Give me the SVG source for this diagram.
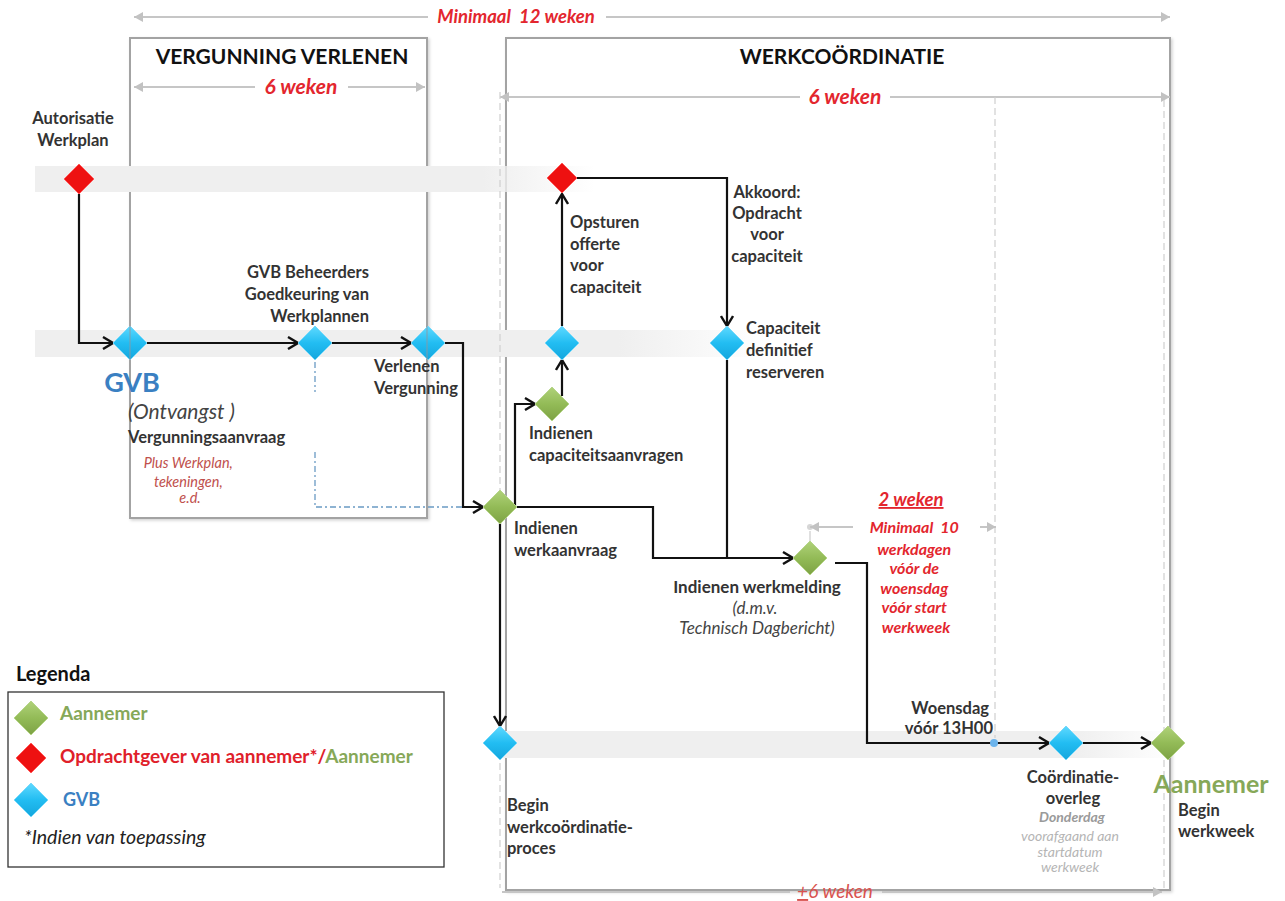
<svg xmlns="http://www.w3.org/2000/svg" width="1285" height="901" viewBox="0 0 1285 901">
<style>
  text { font-family: Lato, "Open Sans", "Liberation Sans", sans-serif; }
  .lbl { font-size: 16.5px; font-weight: 700; fill: #333; }
  .ital { font-size: 17px; font-style: italic; fill: #444; }
  .title { font-size: 21px; font-weight: 700; fill: #111; }
  .dimtxt { font-size: 18.5px; font-weight: 700; font-style: italic; fill: #e3262e; }
  .redsm { font-size: 16px; font-weight: 700; font-style: italic; fill: #e3262e; }
  .panel { fill: #fff; stroke: #a3a3a3; stroke-width: 2; }
  .dim { stroke: #c6c6c6; stroke-width: 2; fill: none; }
  .vdash { stroke: #cfcfcf; stroke-width: 1.2; stroke-dasharray: 7 4; fill: none; }
  .conn { stroke: #111; stroke-width: 2.2; fill: none; }
  .blue { fill: url(#gBlue); stroke: #78d9fa; stroke-width: 1; }
  .green { fill: url(#gGreen); stroke: #b6d58a; stroke-width: 1; }
  .red { fill: #ee1111; stroke: #ff5a5a; stroke-width: 1; }
</style>
<defs>
  <linearGradient id="gBlue" x1="0" y1="0" x2="0" y2="1">
    <stop offset="0" stop-color="#5fd9ff"/>
    <stop offset="0.5" stop-color="#22bdf2"/>
    <stop offset="1" stop-color="#14a6dd"/>
  </linearGradient>
  <linearGradient id="gGreen" x1="0" y1="0" x2="0" y2="1">
    <stop offset="0" stop-color="#b0d27a"/>
    <stop offset="0.5" stop-color="#93bb57"/>
    <stop offset="1" stop-color="#7da244"/>
  </linearGradient>
  <linearGradient id="band1" x1="0" y1="0" x2="1" y2="0">
    <stop offset="0" stop-color="#efefef"/>
    <stop offset="0.8" stop-color="#efefef"/>
    <stop offset="1" stop-color="#efefef" stop-opacity="0"/>
  </linearGradient>
  <linearGradient id="band3" x1="0" y1="0" x2="1" y2="0">
    <stop offset="0" stop-color="#efefef"/>
    <stop offset="0.85" stop-color="#efefef"/>
    <stop offset="1" stop-color="#efefef" stop-opacity="0"/>
  </linearGradient>
  <filter id="shadow" x="-5%" y="-5%" width="110%" height="110%">
    <feDropShadow dx="1.5" dy="1.5" stdDeviation="1.5" flood-color="#000" flood-opacity="0.18"/>
  </filter>
  <marker id="arr" markerUnits="userSpaceOnUse" markerWidth="14" markerHeight="14" refX="12" refY="7" orient="auto">
    <path d="M2,1 L12,7 L2,13" fill="none" stroke="#111" stroke-width="2.4"/>
  </marker>
  <marker id="darr" markerUnits="userSpaceOnUse" markerWidth="10" markerHeight="10" refX="9" refY="5" orient="auto-start-reverse">
    <path d="M0,0 L9,5 L0,10 Z" fill="#c2c2c2"/>
  </marker>
  <path id="dia" d="M0,-17 L17,0 L0,17 L-17,0 Z"/>
  <path id="diaR" d="M0,-15 L15,0 L0,15 L-15,0 Z"/>
</defs>

<rect width="1285" height="901" fill="#fff"/>

<!-- panels -->
<g id="panel-vergunning">
  <rect class="panel" x="130" y="38" width="297" height="480" filter="url(#shadow)"/>
  <text class="title" x="282" y="64" text-anchor="middle">VERGUNNING VERLENEN</text>
</g>
<g id="panel-werkcoordinatie">
  <rect class="panel" x="506" y="38" width="664" height="852" filter="url(#shadow)"/>
  <text class="title" x="842" y="64" text-anchor="middle">WERKCOÖRDINATIE</text>
</g>

<!-- lanes -->
<g id="lanes">
  <rect x="35" y="166" width="560" height="26" fill="url(#band1)"/>
  <rect x="35" y="330" width="730" height="27" fill="url(#band1)"/>
  <rect x="500" y="731" width="675" height="27" fill="url(#band3)"/>
</g>

<!-- dimension lines -->
<g id="dimensions">
  <line class="dim" x1="134" y1="17" x2="428" y2="17" marker-start="url(#darr)"/>
  <line class="dim" x1="606" y1="17" x2="1170" y2="17" marker-end="url(#darr)"/>
  <text class="dimtxt" x="516" y="23" text-anchor="middle">Minimaal&#160; 12 weken</text>

  <line class="dim" x1="134" y1="87" x2="255" y2="87" marker-start="url(#darr)"/>
  <line class="dim" x1="348" y1="87" x2="425" y2="87" marker-end="url(#darr)"/>
  <text class="dimtxt" x="301" y="94" text-anchor="middle" style="font-size:21px">6 weken</text>

  <line class="dim" x1="500" y1="97" x2="800" y2="97" marker-start="url(#darr)"/>
  <line class="dim" x1="890" y1="97" x2="1170" y2="97" marker-end="url(#darr)"/>
  <text class="dimtxt" x="845" y="104" text-anchor="middle" style="font-size:21px">6 weken</text>

  <line class="dim" x1="502" y1="892" x2="790" y2="892"/>
  <line class="dim" x1="882" y1="892" x2="1162" y2="892" marker-end="url(#darr)"/>
  <text x="835" y="898" text-anchor="middle" style="font-size:19px;font-style:italic;fill:#d9534f"><tspan text-decoration="underline">+</tspan>6 weken</text>

  <line class="vdash" x1="500" y1="92" x2="500" y2="888"/>
  <line class="vdash" x1="995" y1="97" x2="995" y2="738"/>
  <line class="vdash" x1="1164" y1="100" x2="1164" y2="888"/>

  <circle cx="810" cy="527" r="3" fill="#d6d6d6"/>
  <line class="dim" x1="810" y1="527" x2="853" y2="527" marker-start="url(#darr)"/>
  <line class="dim" x1="980" y1="527" x2="996" y2="527" marker-end="url(#darr)"/>
  <line x1="810" y1="531" x2="810" y2="542" stroke="#e0e0e0" stroke-width="2"/>
  <text x="911" y="506" text-anchor="middle" style="font-size:18.5px;font-weight:700;font-style:italic;fill:#e3262e;text-decoration:underline">2 weken</text>
  <text class="redsm" text-anchor="middle">
    <tspan x="916" y="533">Minimaal&#160; 10</tspan>
    <tspan x="916" y="555">werkdagen</tspan>
    <tspan x="916" y="574">vóór de</tspan>
    <tspan x="916" y="594">woensdag</tspan>
    <tspan x="916" y="613">vóór start</tspan>
    <tspan x="916" y="633">werkweek</tspan>
  </text>
</g>

<!-- connectors -->
<g id="connectors">
  <path class="conn" d="M79,194 V343 H113" marker-end="url(#arr)"/>
  <path class="conn" d="M147,343 H298" marker-end="url(#arr)"/>
  <path class="conn" d="M332,343 H411" marker-end="url(#arr)"/>
  <path class="conn" d="M445,343 H463 V507 H483" marker-end="url(#arr)"/>
  <path d="M315,362 V392 M315,452 V507 H462" fill="none" stroke="#6a9ac4" stroke-width="1.3" stroke-dasharray="6 3 2 3"/>
  <path class="conn" d="M515,507 V404 H535" marker-end="url(#arr)"/>
  <path class="conn" d="M515,507 H653 V558 H793" marker-end="url(#arr)"/>
  <path class="conn" d="M727,360 V558"/>
  <path class="conn" d="M500,522 V726" marker-end="url(#arr)"/>
  <path class="conn" d="M562,396 V360" marker-end="url(#arr)"/>
  <path class="conn" d="M562,326 V194" marker-end="url(#arr)"/>
  <path class="conn" d="M577,178 H727 V326" marker-end="url(#arr)"/>
  <path class="conn" d="M835,563 H867 V743 H1049" marker-end="url(#arr)"/>
  <path class="conn" d="M1083,743 H1151" marker-end="url(#arr)"/>
  <circle cx="994" cy="743" r="4" fill="#6cb4ec"/>
</g>

<!-- nodes -->
<g id="node-autorisatie">
  <use href="#diaR" x="79" y="179" class="red"/>
  <text class="lbl" text-anchor="middle"><tspan x="73" y="124">Autorisatie</tspan><tspan x="73" y="146">Werkplan</tspan></text>
</g>
<g id="node-gvb-ontvangst">
  <use href="#dia" x="130" y="343" class="blue"/>
  <line x1="130" y1="326" x2="130" y2="360" stroke="#8a9aa5" stroke-width="1.5" opacity="0.6"/>
  <text x="132" y="392" text-anchor="middle" style="font-size:27px;font-weight:700;fill:#3a80c2">GVB</text>
  <text class="ital" x="128" y="419" style="font-size:21px">(Ontvangst )</text>
  <text class="lbl" x="128" y="443">Vergunningsaanvraag</text>
  <text text-anchor="middle" style="font-size:14.5px;font-style:italic;fill:#c0504d">
    <tspan x="190" y="468">Plus Werkplan,</tspan>
    <tspan x="190" y="487">tekeningen,</tspan>
    <tspan x="190" y="503">e.d.</tspan>
  </text>
</g>
<g id="node-goedkeuring">
  <use href="#dia" x="315" y="343" class="blue"/>
  <text class="lbl" text-anchor="end"><tspan x="369" y="278">GVB Beheerders</tspan><tspan x="369" y="300">Goedkeuring van</tspan><tspan x="369" y="322">Werkplannen</tspan></text>
</g>
<g id="node-verlenen">
  <use href="#dia" x="428" y="343" class="blue"/>
  <line x1="427" y1="326" x2="427" y2="360" stroke="#8a9aa5" stroke-width="1.5" opacity="0.6"/>
  <text class="lbl"><tspan x="374" y="372">Verlenen</tspan><tspan x="374" y="394">Vergunning</tspan></text>
</g>
<g id="node-werkaanvraag">
  <use href="#dia" x="500" y="507" class="green"/>
  <text class="lbl"><tspan x="514" y="534">Indienen</tspan><tspan x="514" y="556">werkaanvraag</tspan></text>
</g>
<g id="node-capaciteitsaanvragen">
  <use href="#dia" x="552" y="404" class="green"/>
  <text class="lbl"><tspan x="529" y="439">Indienen</tspan><tspan x="529" y="461">capaciteitsaanvragen</tspan></text>
</g>
<g id="node-offerte">
  <use href="#dia" x="562" y="343" class="blue"/>
  <text class="lbl"><tspan x="570" y="228">Opsturen</tspan><tspan x="570" y="250">offerte</tspan><tspan x="570" y="271">voor</tspan><tspan x="570" y="293">capaciteit</tspan></text>
</g>
<g id="node-akkoord">
  <use href="#diaR" x="562" y="178" class="red"/>
  <text class="lbl" text-anchor="middle"><tspan x="767" y="198">Akkoord:</tspan><tspan x="767" y="219">Opdracht</tspan><tspan x="767" y="240">voor</tspan><tspan x="767" y="262">capaciteit</tspan></text>
</g>
<g id="node-capaciteit-reserveren">
  <use href="#dia" x="727" y="343" class="blue"/>
  <text class="lbl"><tspan x="746" y="334">Capaciteit</tspan><tspan x="746" y="356">definitief</tspan><tspan x="746" y="378">reserveren</tspan></text>
</g>
<g id="node-werkmelding">
  <use href="#dia" x="810" y="558" class="green"/>
  <text class="lbl" x="757" y="593" text-anchor="middle" style="font-size:17px">Indienen werkmelding</text>
  <text class="ital" text-anchor="middle"><tspan x="755" y="614">(d.m.v.</tspan><tspan x="757" y="634">Technisch Dagbericht)</tspan></text>
</g>
<g id="node-begin-werkcoordinatie">
  <use href="#dia" x="500" y="743" class="blue"/>
  <text class="lbl"><tspan x="507" y="811">Begin</tspan><tspan x="507" y="833">werkcoördinatie-</tspan><tspan x="507" y="854">proces</tspan></text>
</g>
<g id="node-woensdag">
  <text class="lbl" text-anchor="end"><tspan x="989" y="714">Woensdag</tspan><tspan x="993" y="734">vóór 13H00</tspan></text>
</g>
<g id="node-coordinatieoverleg">
  <use href="#dia" x="1066" y="743" class="blue"/>
  <text class="lbl" text-anchor="middle"><tspan x="1073" y="783">Coördinatie-</tspan><tspan x="1073" y="804">overleg</tspan></text>
  <text text-anchor="middle" style="font-size:14px;font-style:italic;font-weight:700;fill:#9a9a9a"><tspan x="1072" y="822">Donderdag</tspan></text>
  <text text-anchor="middle" style="font-size:14px;font-style:italic;fill:#b5b5b5"><tspan x="1070" y="841">voorafgaand aan</tspan><tspan x="1070" y="857">startdatum</tspan><tspan x="1070" y="872">werkweek</tspan></text>
</g>
<g id="node-begin-werkweek">
  <use href="#dia" x="1168" y="743" class="green"/>
  <text x="1211" y="793" text-anchor="middle" style="font-size:25px;font-weight:700;fill:#86a858">Aannemer</text>
  <text class="lbl"><tspan x="1178" y="816">Begin</tspan><tspan x="1178" y="837">werkweek</tspan></text>
</g>

<!-- legend -->
<g id="legend">
  <text x="16" y="681" style="font-size:20px;font-weight:700;fill:#111">Legenda</text>
  <rect x="8" y="692" width="436" height="175" fill="#fff" stroke="#333" stroke-width="1.3"/>
  <use href="#dia" x="31" y="718" class="green"/>
  <text x="60" y="720" style="font-size:19px;font-weight:700;fill:#86a858">Aannemer</text>
  <use href="#diaR" x="31" y="758" class="red"/>
  <text x="60" y="763" style="font-size:19px;font-weight:700;fill:#e0202a">Opdrachtgever van aannemer*/<tspan style="fill:#86a858">Aannemer</tspan></text>
  <use href="#dia" x="31" y="800" class="blue"/>
  <text x="63" y="806" style="font-size:18px;font-weight:700;fill:#3a80c2">GVB</text>
  <text x="24" y="844" style="font-size:19.5px;font-style:italic;fill:#222">*Indien van toepassing</text>
</g>
</svg>
